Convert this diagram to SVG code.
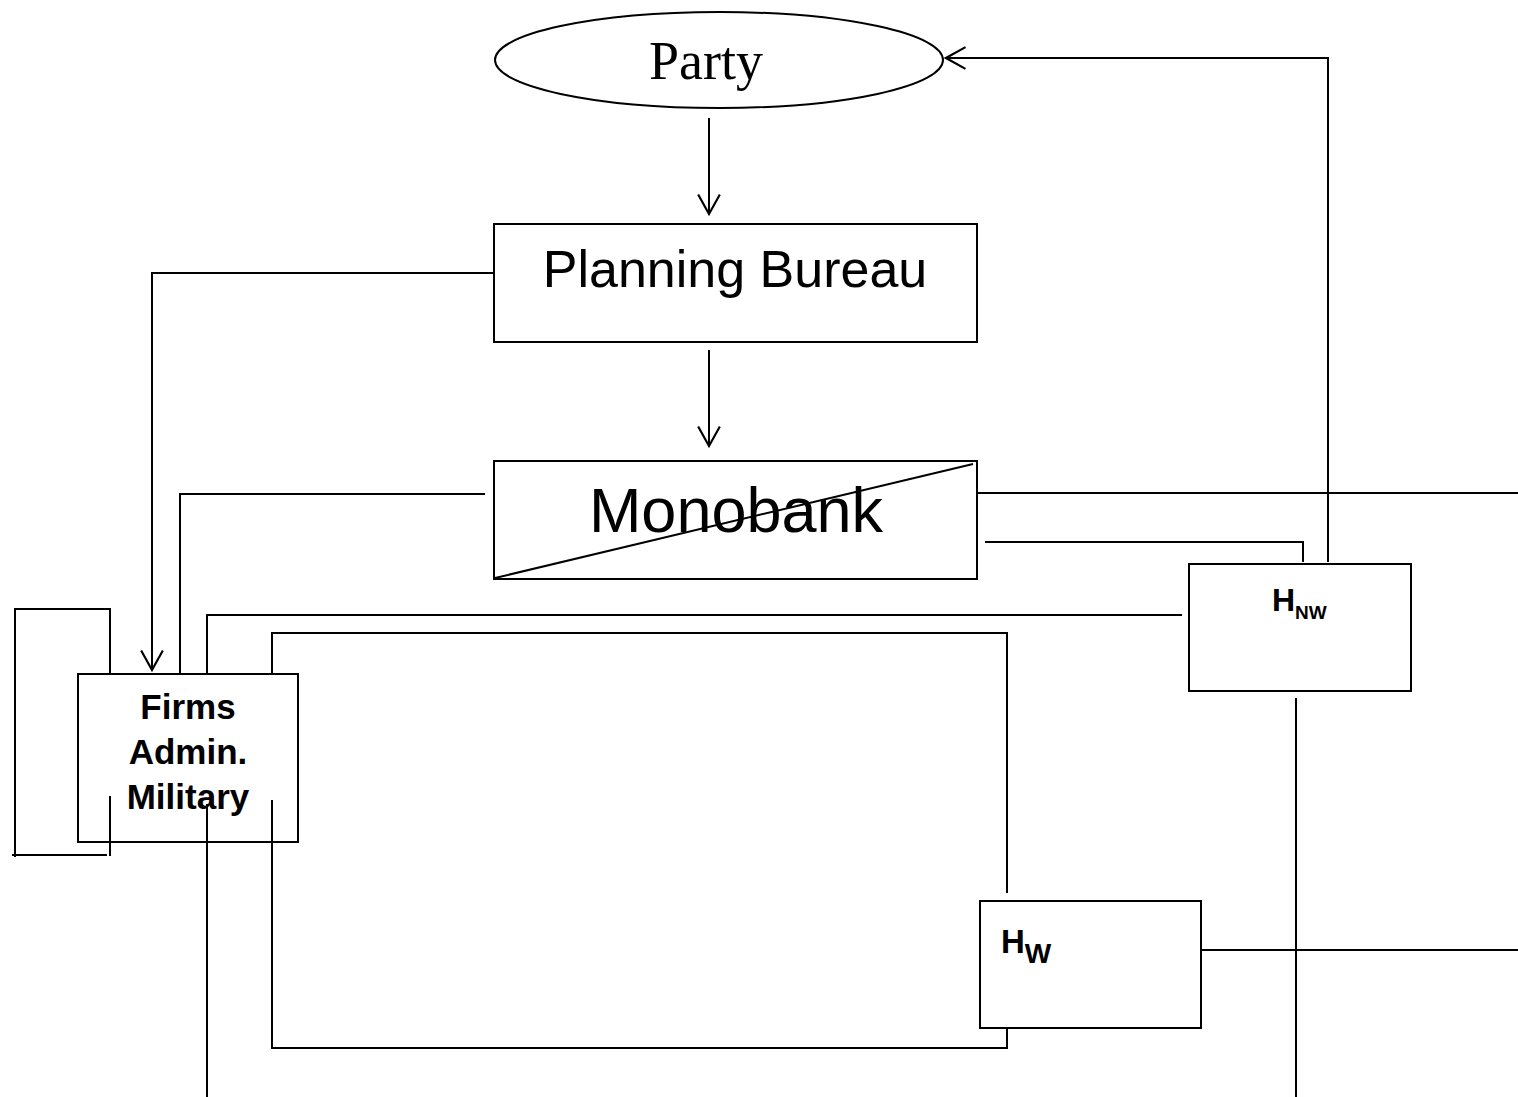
<svg xmlns="http://www.w3.org/2000/svg" width="1518" height="1097" viewBox="0 0 1518 1097">
  <style>
    .box { fill: #ffffff; stroke: #000000; stroke-width: 2; }
    .wire { fill: none; stroke: #000000; stroke-width: 2; }
    .sans { font-family: "Liberation Sans", Arial, sans-serif; fill: #000000; }
    .serif { font-family: "Liberation Serif", "Times New Roman", serif; fill: #000000; }
    .bold { font-weight: bold; }
  </style>
  <defs>
    <marker id="openArrow" markerUnits="userSpaceOnUse" markerWidth="24" markerHeight="26" viewBox="-20 -12 22 24" refX="0" refY="0" orient="auto">
      <path d="M -18 -10 L 0 0 L -18 10" fill="none" stroke="#000000" stroke-width="2"/>
    </marker>
  </defs>
  <rect width="1518" height="1097" fill="#ffffff"/>

  <g id="connectors">
    <!-- Party to Planning Bureau -->
    <line class="wire" x1="709" y1="118" x2="709" y2="214" marker-end="url(#openArrow)"/>
    <!-- Planning Bureau to Monobank -->
    <line class="wire" x1="709" y1="350" x2="709" y2="446" marker-end="url(#openArrow)"/>
    <!-- Planning Bureau to Firms -->
    <polyline class="wire" points="494,273 152,273 152,670" marker-end="url(#openArrow)"/>
    <!-- Monobank to Firms -->
    <polyline class="wire" points="485,494 180,494 180,673"/>
    <!-- H_Nw to Firms -->
    <polyline class="wire" points="1182,615 207,615 207,673"/>
    <!-- Firms top to H_W top -->
    <polyline class="wire" points="272,680 272,633 1007,633 1007,893"/>
    <!-- Firms self loop -->
    <polyline class="wire" points="110,673 110,609 15,609 15,857"/>
    <line class="wire" x1="12" y1="855" x2="107" y2="855"/>
    <!-- Firms downward exit -->
    <line class="wire" x1="207" y1="842" x2="207" y2="1097"/>
    <!-- Firms to H_W bottom -->
    <polyline class="wire" points="272,842 272,1048 1007,1048 1007,1028"/>
    <!-- H_W to the right edge -->
    <line class="wire" x1="1201" y1="950" x2="1518" y2="950"/>
    <!-- Monobank to the right edge -->
    <line class="wire" x1="977" y1="493" x2="1518" y2="493"/>
    <!-- Monobank to H_Nw -->
    <polyline class="wire" points="985,542 1303,542 1303,562"/>
    <!-- H_Nw to Party -->
    <polyline class="wire" points="1328,562 1328,58 946,58" marker-end="url(#openArrow)"/>
    <!-- H_Nw downward exit -->
    <line class="wire" x1="1296" y1="698" x2="1296" y2="1097"/>
  </g>

  <g id="party">
    <ellipse class="box" cx="719" cy="60" rx="224" ry="48"/>
    <text class="serif" x="706" y="79" font-size="54" text-anchor="middle">Party</text>
  </g>

  <g id="planning-bureau">
    <rect class="box" x="494" y="224" width="483" height="118"/>
    <text class="sans" x="735" y="287" font-size="52" text-anchor="middle">Planning Bureau</text>
  </g>

  <g id="monobank">
    <rect class="box" x="494" y="461" width="483" height="118"/>
    <text class="sans" x="736" y="532" font-size="63" text-anchor="middle">Monobank</text>
    <line class="wire" x1="495" y1="578" x2="973" y2="464"/>
  </g>

  <g id="firms">
    <rect class="box" x="78" y="674" width="220" height="168"/>
    <text class="sans bold" x="188" y="719" font-size="35" text-anchor="middle">Firms</text>
    <text class="sans bold" x="188" y="764" font-size="35" text-anchor="middle">Admin.</text>
    <text class="sans bold" x="188" y="809" font-size="35" text-anchor="middle">Military</text>
  </g>
  <!-- connector stubs drawn over the Firms box -->
  <g id="firms-stubs">
    <line class="wire" x1="110" y1="796" x2="110" y2="856"/>
    <line class="wire" x1="207" y1="804" x2="207" y2="843"/>
    <line class="wire" x1="272" y1="800" x2="272" y2="843"/>
  </g>

  <g id="h-nw">
    <rect class="box" x="1189" y="564" width="222" height="127"/>
    <text class="sans bold" x="1272" y="611" font-size="32">H<tspan font-size="19" dy="8">NW</tspan></text>
  </g>

  <g id="h-w">
    <rect class="box" x="980" y="901" width="221" height="127"/>
    <text class="sans bold" x="1001" y="953" font-size="33">H<tspan font-size="28" dy="10">W</tspan></text>
  </g>
</svg>
